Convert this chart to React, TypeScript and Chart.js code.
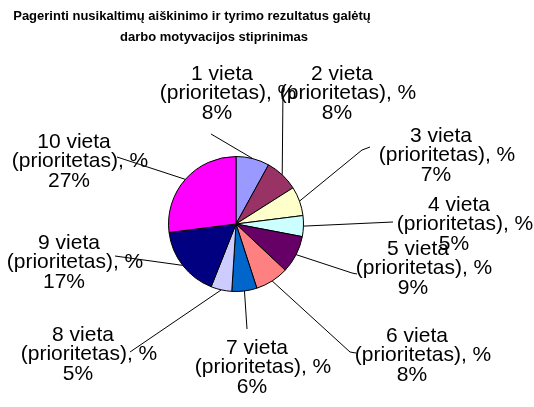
import React, { useEffect, useRef } from "react";
import { Chart, registerables } from "chart.js";

Chart.register(...registerables);

const titleLines = [
  "Pagerinti nusikaltimų aiškinimo ir tyrimo rezultatus galėtų",
  "darbo motyvacijos stiprinimas",
];
const categories = [
  "1 vieta (prioritetas), %",
  "2 vieta (prioritetas), %",
  "3 vieta (prioritetas), %",
  "4 vieta (prioritetas), %",
  "5 vieta (prioritetas), %",
  "6 vieta (prioritetas), %",
  "7 vieta (prioritetas), %",
  "8 vieta (prioritetas), %",
  "9 vieta (prioritetas), %",
  "10 vieta (prioritetas), %",
];
const values = [8, 8, 7, 5, 9, 8, 6, 5, 17, 27];
const colors = [
  "#9999FF", "#993366", "#FFFFCC", "#CCFFFF", "#660066",
  "#FF8080", "#0066CC", "#CCCCFF", "#000080", "#FF00FF",
];

// label block placement relative to pie centre: [cx, yFirstLine]
const labelPos: [number, number][] = [
  [-14, -150], [106, -150], [205, -88], [223, -19], [182, 25],
  [181, 112], [21, 124], [-153, 111], [-167, 19], [-162, -82],
];
// leader line bend points relative to pie centre
const leaderPts: [number, number][][] = [
  [[-25, -90]],
  [[47, -136]],
  [[126, -74], [134, -77]],
  [[157, -2]],
  [[116, 49], [121, 50]],
  [[114, 128], [120, 129]],
  [[11, 105]],
  [[-106, 128]],
  [[-121, 32]],
  [[-119, -67]],
];
const lineDx = [0, 6, -5];
const lineH = 19.5;
const FONT = '"Liberation Sans", Arial, sans-serif';

const labelPlugin = {
  id: "pieLabels",
  afterDraw(chart: any) {
    const ctx = chart.ctx;
    const meta = chart.getDatasetMeta(0);
    ctx.save();
    // title
    ctx.fillStyle = "#000";
    ctx.font = `bold 13px ${FONT}`;
    ctx.textAlign = "center";
    ctx.textBaseline = "middle";
    ctx.fillText(titleLines[0], 192, 16);
    ctx.fillText(titleLines[1], 214, 37);

    meta.data.forEach((arc: any, i: number) => {
      const p = arc.getProps(["x", "y", "startAngle", "endAngle", "outerRadius"], true);
      const mid = (p.startAngle + p.endAngle) / 2;
      const ex = p.x + Math.cos(mid) * p.outerRadius;
      const ey = p.y + Math.sin(mid) * p.outerRadius;
      ctx.strokeStyle = "#000";
      ctx.lineWidth = 1;
      ctx.beginPath();
      ctx.moveTo(ex, ey);
      leaderPts[i].forEach(([dx, dy]) => ctx.lineTo(p.x + dx, p.y + dy));
      ctx.stroke();

      const cat = categories[i];
      const k = cat.indexOf(" (");
      const lines = [cat.slice(0, k), cat.slice(k + 1), `${values[i]}%`];
      ctx.font = `21px ${FONT}`;
      ctx.fillStyle = "#000";
      const [lx, ly] = labelPos[i];
      lines.forEach((t, j) => {
        ctx.fillText(t, p.x + lx + lineDx[j], p.y + ly + j * lineH);
      });
    });
    ctx.restore();
  },
};

export default function App() {
  const ref = useRef<HTMLCanvasElement | null>(null);
  useEffect(() => {
    if (!ref.current) return;
    const chart = new Chart(ref.current, {
      type: "pie",
      data: {
        labels: categories,
        datasets: [
          {
            data: values,
            backgroundColor: colors,
            borderColor: "#000",
            borderWidth: 1,
          },
        ],
      },
      options: {
        responsive: false,
        animation: false,
        layout: { padding: { left: 168, right: 230, top: 156, bottom: 115 } },
        plugins: {
          legend: { display: false },
          title: { display: false },
          tooltip: { enabled: false },
        },
      },
      plugins: [labelPlugin],
    });
    return () => chart.destroy();
  }, []);
  return (
    <div style={{ position: "absolute", left: 0, top: 0, width: 534, height: 407, background: "#fff" }}>
      <canvas ref={ref} width={534} height={407} />
    </div>
  );
}
